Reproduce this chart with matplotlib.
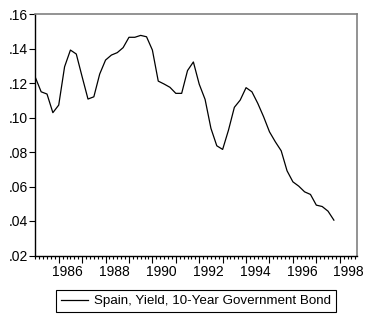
import matplotlib
matplotlib.use("Agg")
import matplotlib.pyplot as plt
import matplotlib.transforms as mtransforms
import numpy as np

plt.rcParams['font.family'] = ['Liberation Sans', 'DejaVu Sans']

# quarterly, 1985Q1 .. 1997Q4 (workfile runs to 1998Q4)
start_year = 1985.0
end_year = 1998.75
yield_10y = [
    .1233, .1149, .1136, .1028, .1072, .1294, .1391, .1368,
    .1236, .1107, .1120, .1252, .1333, .1362, .1376, .1405,
    .1465, .1465, .1476, .1468, .1391, .1211, .1194, .1175,
    .1140, .1140, .1272, .1322, .1193, .1105, .0937, .0836,
    .0815, .0927, .1059, .1101, .1173, .1149, .1082, .1004,
    .0917, .0859, .0807, .0691, .0627, .0602, .0569, .0554,
    .0492, .0484, .0457, .0405,
]
y_ticks = [.02, .04, .06, .08, .10, .12, .14, .16]
label_years = [1986, 1988, 1990, 1992, 1994, 1996, 1998]
series_name = "Spain, Yield, 10-Year Government Bond"

dates = start_year + 0.25 * np.arange(len(yield_10y))

fig = plt.figure(figsize=(3.66, 3.18), dpi=100)
ax = fig.add_axes([35.3 / 366, 1 - 255.5 / 318, 322 / 366, 241.5 / 318])

line, = ax.plot(dates, yield_10y, color='black', lw=0.9)

ax.set_xlim(start_year, end_year)
ax.set_ylim(.02, .16)

# y axis
ax.set_yticks(y_ticks)
ax.set_yticklabels(['.%02d' % round(v * 100) for v in y_ticks])
ax.tick_params(axis='y', direction='out', length=4, width=0.8, pad=1, labelsize=10)

# x axis: yearly major ticks, bi-monthly minor ticks, labels every 2 years
years = np.arange(1986, 1999)
ax.set_xticks(years)
ax.set_xticklabels([str(y) if y in label_years else '' for y in years])
ax.set_xticks(np.arange(start_year, end_year + 0.01, 1 / 6), minor=True)
ax.tick_params(axis='x', which='major', direction='out', length=5, width=0.8, pad=2, labelsize=10)
ax.tick_params(axis='x', which='minor', direction='out', length=2.5, width=0.8)
shift = mtransforms.ScaledTranslation(9 / 100, 0, fig.dpi_scale_trans)
for lbl in ax.get_xticklabels():
    lbl.set_transform(lbl.get_transform() + shift)

for side in ['left', 'bottom']:
    ax.spines[side].set_color('black')
    ax.spines[side].set_linewidth(1.0)
for side in ['top', 'right']:
    ax.spines[side].set_color('#808080')
    ax.spines[side].set_linewidth(1.2)

leg = fig.legend([line], [series_name], loc='center',
                 bbox_to_anchor=(196.3 / 366, 1 - 301 / 318),
                 fancybox=False, framealpha=1, edgecolor='black',
                 fontsize=9.6, handlelength=2.0, borderpad=0.35,
                 handletextpad=0.5)
leg.get_frame().set_linewidth(0.8)

fig.savefig('out.png', dpi=100)
